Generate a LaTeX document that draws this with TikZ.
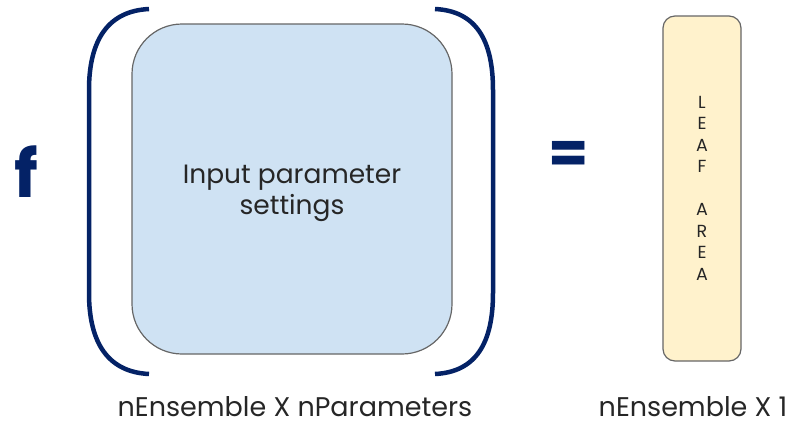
\documentclass[tikz,border=0pt]{standalone}
\usepackage{fontspec}
\setmainfont{Poppins}
\definecolor{navy}{RGB}{4,34,102}
\definecolor{boxblue}{RGB}{207,226,243}
\definecolor{boxyellow}{RGB}{255,242,204}
\definecolor{edgegray}{RGB}{102,102,102}
\tikzset{
  bracketline/.style={draw=navy, line width=4.5pt, line cap=butt},
  matbox/.style={draw=edgegray, line width=1.2pt, inner sep=0pt},
  lbl/.style={font=\fontsize{27}{30}\selectfont, text=black!85, inner sep=0pt},
}
\begin{document}
\begin{tikzpicture}[x=1pt,y=-1pt]
\useasboundingbox (0,0) rectangle (793,423);
% big input box
\node[matbox, fill=boxblue, rounded corners=50pt, minimum width=320pt, minimum height=330pt] (inp) at (292,189) {};
\node[align=center, font=\fontsize{26.5}{31}\selectfont, text=black!85, inner sep=0pt] (inptxt) at (292,193) {Input parameter\\settings};
% brackets
\draw[bracketline] (149,9) .. controls (108,11) and (89,40) .. (89,90) -- (89,293) .. controls (89,343) and (108,372) .. (149,374);
\draw[bracketline] (435,9) .. controls (476,11) and (493,40) .. (493,90) -- (493,293) .. controls (493,343) and (476,372) .. (435,374);
% f
\node[font=\fontsize{66}{66}\selectfont\bfseries, text=navy, inner sep=0pt, anchor=base] (f) at (26,197) {f};
% equals
\node[font=\fontsize{58}{58}\selectfont\bfseries, text=navy, inner sep=0pt] (eq) at (568.5,157) {=};
% leaf box
\node[matbox, fill=boxyellow, rounded corners=12pt, minimum width=78pt, minimum height=345pt] (leaf) at (702,188.5) {};
\node[align=center, font=\fontsize{17.5}{21.5}\selectfont, text=black!85, inner sep=0pt, anchor=north] (leaftxt) at (702,96) {L\\E\\A\\F\\[21.5pt]A\\R\\E\\A};
% labels
\node[lbl, anchor=base] (lab1) at (295,416) {nEnsemble X nParameters};
\node[lbl, anchor=base] (lab2) at (693,416) {nEnsemble X 1};
\end{tikzpicture}
\end{document}
